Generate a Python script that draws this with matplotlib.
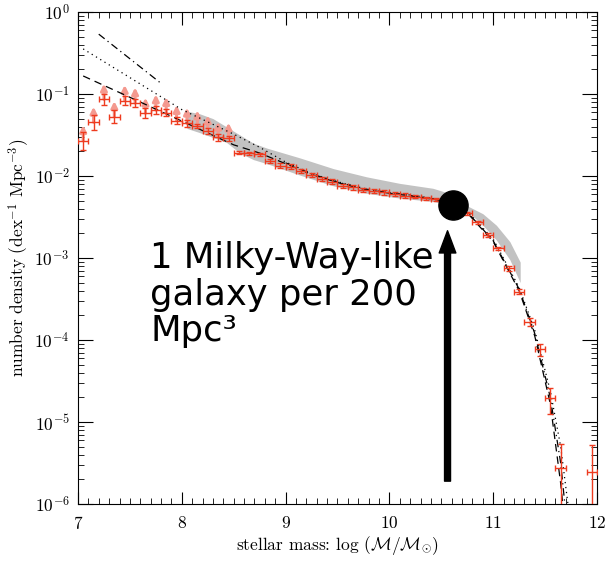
import numpy as np
import matplotlib
matplotlib.use("Agg")
import matplotlib.pyplot as plt
from matplotlib.ticker import MultipleLocator, LogLocator, NullFormatter

plt.rcParams['font.family'] = 'serif'
plt.rcParams['font.serif'] = ['cmr10', 'DejaVu Serif']
plt.rcParams['mathtext.fontset'] = 'cm'
plt.rcParams['axes.formatter.use_mathtext'] = True

# measured mass function (log10 of number density)
mass = [7.05, 7.15, 7.25, 7.35, 7.45, 7.55, 7.65, 7.75, 7.85, 7.95,
        8.05, 8.15, 8.25, 8.35, 8.45, 8.55, 8.65, 8.75, 8.85, 8.95,
        9.05, 9.15, 9.25, 9.35, 9.45, 9.55, 9.65, 9.75, 9.85, 9.95,
        10.05, 10.15, 10.25, 10.35, 10.45, 10.55, 10.65, 10.75, 10.85, 10.95,
        11.05, 11.15, 11.25, 11.35, 11.45, 11.55, 11.65, 11.95]
logphi = [-1.57, -1.345, -1.065, -1.277, -1.08, -1.11, -1.235, -1.195, -1.228, -1.325,
          -1.357, -1.39, -1.451, -1.528, -1.54, -1.716, -1.723, -1.735, -1.817, -1.874,
          -1.887, -1.939, -1.988, -2.037, -2.07, -2.122, -2.138, -2.171, -2.183, -2.199,
          -2.22, -2.24, -2.252, -2.272, -2.284, -2.31, -2.35, -2.455, -2.565, -2.72,
          -2.88, -3.126, -3.41, -3.784, -4.113, -4.71, -5.565, -5.606]
err_lo = [0.11, 0.09, 0.07, 0.08, 0.05, 0.05, 0.06, 0.05, 0.04, 0.04,
          0.04, 0.03, 0.04, 0.04, 0.03, 0.02, 0.02, 0.02, 0.03, 0.03,
          0.03, 0.02, 0.03, 0.02, 0.03, 0.02, 0.03, 0.02, 0.02, 0.03,
          0.02, 0.03, 0.02, 0.02, 0.02, 0.02, 0.02, 0.02, 0.02, 0.02,
          0.02, 0.03, 0.03, 0.05, 0.08, 0.19, 1.0, 1.0]
err_hi = [0.11, 0.09, 0.07, 0.08, 0.05, 0.05, 0.06, 0.05, 0.04, 0.04,
          0.04, 0.03, 0.04, 0.04, 0.03, 0.02, 0.02, 0.02, 0.03, 0.03,
          0.03, 0.02, 0.03, 0.02, 0.03, 0.02, 0.03, 0.02, 0.02, 0.03,
          0.02, 0.03, 0.02, 0.02, 0.02, 0.02, 0.02, 0.02, 0.02, 0.02,
          0.02, 0.03, 0.03, 0.05, 0.07, 0.13, 0.30, 0.32]
n_limits = 15  # first bins are lower limits (incompleteness)

# grey band
band_x = [8.05, 8.17, 8.30, 8.43, 8.56, 8.69, 8.82, 9.14, 9.46, 9.78,
          10.10, 10.42, 10.60, 10.76, 10.90, 11.03, 11.16, 11.26]
band_hi = [-1.21, -1.24, -1.30, -1.40, -1.50, -1.60, -1.66, -1.78, -1.91, -2.01,
           -2.09, -2.15, -2.22, -2.37, -2.46, -2.60, -2.80, -3.05]
band_lo = [-1.42, -1.47, -1.53, -1.59, -1.72, -1.80, -1.85, -1.99, -2.12, -2.21,
           -2.27, -2.31, -2.36, -2.44, -2.60, -2.78, -3.02, -3.30]

# fits
dash_x = [7.05, 7.5, 8.0, 8.5, 8.75, 9.0, 9.25, 9.5, 9.75, 10.0, 10.25, 10.5,
          10.75, 11.0, 11.25, 11.4, 11.55, 11.65, 11.67]
dash_y = [-0.78, -1.04, -1.33, -1.62, -1.72, -1.85, -1.98, -2.08, -2.16, -2.21, -2.25, -2.30,
          -2.45, -2.80, -3.40, -3.95, -4.78, -5.75, -6.0]
dot_x = [7.05, 7.5, 8.0, 8.5, 8.75, 9.0, 9.25, 9.5, 9.75, 10.0, 10.25, 10.5,
         10.75, 11.0, 11.25, 11.4, 11.55, 11.65, 11.72]
dot_y = [-0.45, -0.80, -1.19, -1.49, -1.65, -1.83, -1.97, -2.07, -2.15, -2.20, -2.24, -2.29,
         -2.43, -2.77, -3.36, -3.88, -4.62, -5.30, -6.0]
dd_x = [7.2, 7.5, 7.8, np.nan, 9.0, 9.25, 9.5, 9.75, 10.0, 10.25, 10.5,
        10.75, 11.0, 11.25, 11.4, 11.55, 11.65, 11.69]
dd_y = [-0.27, -0.57, -0.87, np.nan, -1.84, -1.975, -2.075, -2.155, -2.205, -2.245, -2.295,
        -2.44, -2.79, -3.38, -3.92, -4.70, -5.50, -6.0]

red = '#ee3b1f'
pink = '#f4998f'

fig = plt.figure(figsize=(6.05, 5.61), dpi=100)
ax = fig.add_axes([0.1289, 0.1016, 0.8579, 0.877])

ax.fill_between(band_x, 10**np.array(band_lo), 10**np.array(band_hi),
                color='#c2c2c2', lw=0, zorder=1)

ax.plot(dash_x, 10**np.array(dash_y), color='k', ls=(0, (6, 4)), lw=0.9, zorder=3)
ax.plot(dot_x, 10**np.array(dot_y), color='k', ls=(0, (1, 3)), lw=0.9, zorder=3)
ax.plot(dd_x, 10**np.array(dd_y), color='k', ls=(0, (6, 3, 1, 3)), lw=0.9, zorder=3)

phi = 10**np.array(logphi)
ylo = phi - phi * 10**(-np.array(err_lo))
yhi = phi * 10**np.array(err_hi) - phi

# lower limits: arrows pointing up
for xm, ym in zip(mass[:n_limits], phi[:n_limits]):
    ax.annotate('', xy=(xm, ym * 10**0.19), xytext=(xm, ym),
                arrowprops=dict(arrowstyle='-|>', color=pink, lw=2.2,
                                mutation_scale=9, shrinkA=0, shrinkB=0), zorder=2)

ax.errorbar(mass, phi, xerr=0.05, yerr=[ylo, yhi], fmt='none', ecolor=red,
            elinewidth=1.0, capsize=2.5, capthick=1.0, zorder=4)

# Milky Way marker
ax.plot([10.61], [4.4e-3], 'o', color='k', markersize=21, zorder=6)
ax.annotate('', xy=(10.56, 2.15e-3), xytext=(10.56, 1.9e-6),
            arrowprops=dict(facecolor='k', edgecolor='k', width=4.3, headwidth=12,
                            headlength=16), zorder=6)
fig.text(150 / 605, 1 - 241 / 561, '1 Milky-Way-like\ngalaxy per 200\nMpc\u00b3',
         family='DejaVu Sans', fontsize=25.5, va='top', ha='left', linespacing=1.1)

ax.set_yscale('log')
ax.set_xlim(7, 12)
ax.set_ylim(1e-6, 1)
ax.xaxis.set_major_locator(MultipleLocator(1))
ax.xaxis.set_minor_locator(MultipleLocator(0.1))
ax.yaxis.set_major_locator(LogLocator(base=10, numticks=10))
ax.yaxis.set_minor_locator(LogLocator(base=10, subs=np.arange(2, 10), numticks=20))
ax.yaxis.set_minor_formatter(NullFormatter())
ax.tick_params(which='both', direction='in', top=True, right=True, labelsize=12.5)
ax.tick_params(which='major', length=9, pad=8)
ax.tick_params(which='minor', length=4.5)
ax.tick_params(axis='y', which='major', length=11, pad=6)

ax.set_xlabel(r'stellar mass: log ($\mathcal{M}/\mathcal{M}_{\odot}$)', fontsize=12.5)
ax.xaxis.set_label_coords(0.5, -0.06)
ax.set_ylabel(r'number density (dex$^{-1}$ Mpc$^{-3}$)', fontsize=12.5)
ax.yaxis.set_label_coords(-0.09, 0.5)

fig.savefig('out.png', dpi=100)
